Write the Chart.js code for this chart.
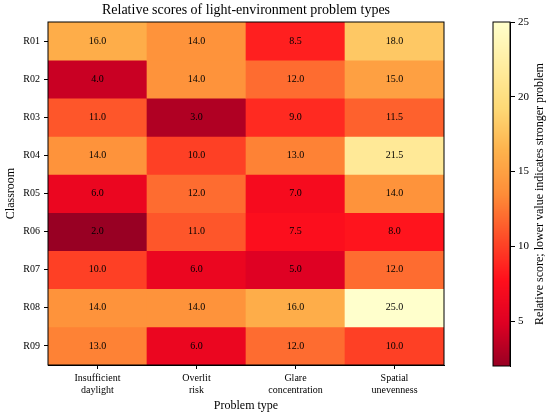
<!DOCTYPE html>
<html>
<head>
<meta charset="utf-8">
<script src="https://cdn.jsdelivr.net/npm/chart.js@4.4.0/dist/chart.umd.min.js"></script>
<style>
    html, body { margin: 0; padding: 0; background: #fff; }
    #wrap { position: relative; width: 550px; height: 416px; }
    #heatmap { position: absolute; left: 0; top: 0; }
    #colorbar { position: absolute; left: 480px; top: 0; }
</style>
</head>
<body>
<div id="wrap">
    <canvas id="heatmap" width="550" height="416"></canvas>
    <canvas id="colorbar" width="70" height="416"></canvas>
</div>
<script>
// rows of the heatmap (top to bottom)
const classrooms = ['R01', 'R02', 'R03', 'R04', 'R05', 'R06', 'R07', 'R08', 'R09'];
// columns (problem types)
const problemTypes = [
    ['Insufficient', 'daylight'],
    ['Overlit', 'risk'],
    ['Glare', 'concentration'],
    ['Spatial', 'unevenness']
];
// scores per classroom, one value per problem type
const r01 = [16.0, 14.0, 8.5, 18.0];
const r02 = [4.0, 14.0, 12.0, 15.0];
const r03 = [11.0, 3.0, 9.0, 11.5];
const r04 = [14.0, 10.0, 13.0, 21.5];
const r05 = [6.0, 12.0, 7.0, 14.0];
const r06 = [2.0, 11.0, 7.5, 8.0];
const r07 = [10.0, 6.0, 5.0, 12.0];
const r08 = [14.0, 14.0, 16.0, 25.0];
const r09 = [13.0, 6.0, 12.0, 10.0];
const scores = [r01, r02, r03, r04, r05, r06, r07, r08, r09];
// colour scale limits and colorbar ticks
const scoreMin = 2;
const scoreMax = 25;
const colorbarTicks = [5, 10, 15, 20, 25];

const SERIF = "'Liberation Serif', 'Times New Roman', serif";

// yellow -> orange -> red, used reversed (low score = dark red)
const ylOrRd = [
    [255, 255, 204], [255, 237, 160], [254, 217, 118], [254, 178, 76], [254, 141, 56],
    [254, 78, 40], [255, 15, 28], [222, 0, 35], [152, 0, 35]
];

function colorFor(v) {
    let t = (v - scoreMin) / (scoreMax - scoreMin);
    t = Math.min(1, Math.max(0, t));
    const p = (1 - t) * (ylOrRd.length - 1);
    const i = Math.min(Math.floor(p), ylOrRd.length - 2);
    const f = p - i;
    const a = ylOrRd[i], b = ylOrRd[i + 1];
    const c = a.map((x, k) => Math.round(x + (b[k] - x) * f));
    return `rgb(${c[0]},${c[1]},${c[2]})`;
}

// cell labels + black frame round the plot
const cellText = {
    id: 'cellText',
    afterDatasetsDraw(chart) {
        const ctx = chart.ctx;
        ctx.save();
        ctx.font = `10px ${SERIF}`;
        ctx.fillStyle = '#000';
        ctx.textAlign = 'center';
        ctx.textBaseline = 'middle';
        scores.forEach((row, i) => {
            const meta = chart.getDatasetMeta(i);
            meta.data.forEach((bar, j) => {
                ctx.fillText(row[j].toFixed(1), bar.x, (bar.y + bar.base) / 2);
            });
        });
        const a = chart.chartArea;
        ctx.strokeStyle = '#000';
        ctx.lineWidth = 1;
        ctx.strokeRect(a.left, a.top, a.right - a.left, a.bottom - a.top);
        ctx.restore();
    }
};

new Chart(document.getElementById('heatmap'), {
    type: 'bar',
    data: {
        labels: problemTypes,
        datasets: classrooms.map((name, i) => ({
            label: name,
            data: problemTypes.map(() => 1),
            backgroundColor: scores[i].map(colorFor),
            borderWidth: 0,
            barPercentage: 1,
            categoryPercentage: 1
        }))
    },
    options: {
        responsive: false,
        animation: false,
        layout: { padding: { top: 0, right: 106, bottom: 0, left: 0 } },
        plugins: {
            legend: { display: false },
            tooltip: { enabled: false },
            title: {
                display: true,
                fullSize: false,
                text: 'Relative scores of light-environment problem types',
                color: '#000',
                font: { family: SERIF, size: 14, weight: 'normal' },
                padding: { top: 1.5, bottom: 3.7 }
            }
        },
        scales: {
            x: {
                stacked: true,
                grid: { display: true, drawOnChartArea: false, offset: false, tickLength: 4, color: '#000' },
                border: { display: true, color: '#000' },
                ticks: { color: '#000', font: { family: SERIF, size: 10 }, padding: 3, maxRotation: 0 },
                title: {
                    display: true, text: 'Problem type', color: '#000',
                    font: { family: SERIF, size: 12 }, padding: { top: 2, bottom: 3 }
                },
                afterFit(scale) { scale.height = 51; }
            },
            y: {
                type: 'linear',
                stacked: true,
                reverse: true,
                min: 0,
                max: classrooms.length,
                afterBuildTicks(scale) {
                    scale.ticks = classrooms.map((c, i) => ({ value: i + 0.5 }));
                },
                grid: { display: true, drawOnChartArea: false, tickLength: 4, color: '#000' },
                border: { display: true, color: '#000' },
                ticks: {
                    color: '#000', font: { family: SERIF, size: 10 }, padding: 4,
                    callback: (v) => classrooms[Math.floor(v)]
                },
                title: {
                    display: true, text: 'Classroom', color: '#000',
                    font: { family: SERIF, size: 12 }, padding: { top: 4, bottom: 2 }
                },
                afterFit(scale) { scale.width = 48; }
            }
        }
    },
    plugins: [cellText]
});

// colorbar: gradient filled per pixel from the axis scale
const colorbarFill = {
    id: 'colorbarFill',
    beforeDatasetsDraw(chart) {
        const ctx = chart.ctx;
        const a = chart.chartArea;
        const ys = chart.scales.y;
        ctx.save();
        for (let py = Math.floor(a.top); py < Math.ceil(a.bottom); py++) {
            ctx.fillStyle = colorFor(ys.getValueForPixel(py + 0.5));
            ctx.fillRect(a.left, py, a.right - a.left, 1);
        }
        ctx.strokeStyle = '#000';
        ctx.lineWidth = 1;
        ctx.strokeRect(a.left, a.top, a.right - a.left, a.bottom - a.top);
        // axis label, reading bottom to top
        ctx.translate(60, (a.top + a.bottom) / 2);
        ctx.rotate(-Math.PI / 2);
        ctx.font = `12px ${SERIF}`;
        ctx.fillStyle = '#000';
        ctx.textAlign = 'center';
        ctx.textBaseline = 'middle';
        ctx.fillText('Relative score; lower value indicates stronger problem', 0, 0);
        ctx.restore();
    }
};

new Chart(document.getElementById('colorbar'), {
    type: 'bar',
    data: { labels: [''], datasets: [] },
    options: {
        responsive: false,
        animation: false,
        layout: { padding: { top: 22, right: 0, bottom: 50, left: 13 } },
        plugins: { legend: { display: false }, tooltip: { enabled: false } },
        scales: {
            x: { display: false },
            y: {
                type: 'linear',
                position: 'right',
                min: scoreMin,
                max: scoreMax,
                afterBuildTicks(scale) {
                    scale.ticks = colorbarTicks.map(v => ({ value: v }));
                },
                grid: { display: true, drawOnChartArea: false, tickLength: 5, color: '#000' },
                border: { display: true, color: '#000' },
                ticks: { color: '#000', font: { family: SERIF, size: 11 }, padding: 3 },
                afterFit(scale) { scale.width = 40; }
            }
        }
    },
    plugins: [colorbarFill]
});
</script>
</body>
</html>
